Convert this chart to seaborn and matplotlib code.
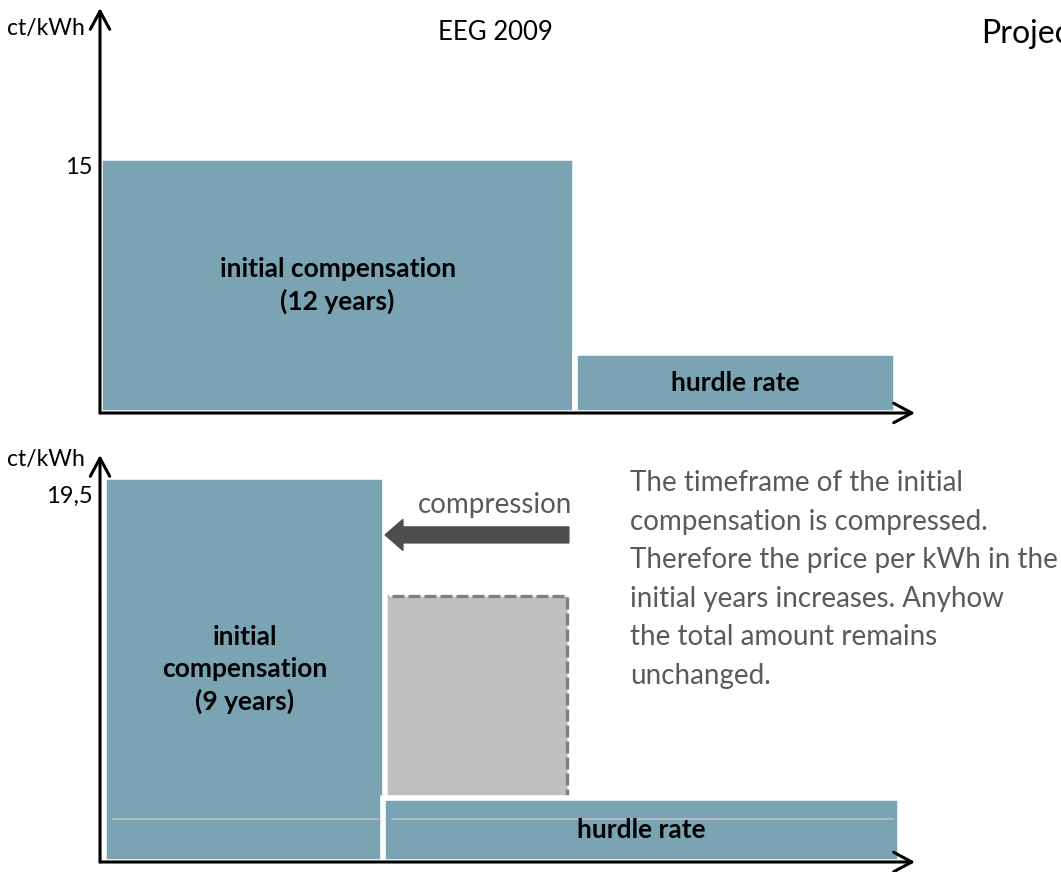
import matplotlib
matplotlib.use("Agg")
import matplotlib.pyplot as plt
import matplotlib.patches as mpatches
import matplotlib.transforms as mtransforms
import seaborn as sns

# --- data (years on x, ct/kWh on y) ---
top_labels = ["initial compensation\n(12 years)", "hurdle rate"]
top_starts = [0, 12]
top_widths = [12, 8.1]
top_heights = [15, 3.5]

bot_labels = ["initial\ncompensation\n(9 years)", "hurdle rate"]
bot_starts = [0.1, 7.15]
bot_widths = [7.1, 13.05]
bot_heights = [19.5, 3.25]

# previous compensation block (shown as dashed ghost)
ghost_start = 0
ghost_width = 11.8
ghost_height = 13.5

top_tick = 15
bot_tick = 19.5
top_tick_label = "15"
bot_tick_label = "19,5"

note_lines = [
    "The timeframe of the initial",
    "compensation is compressed.",
    "Therefore the price per kWh in the",
    "initial years increases. Anyhow",
    "the total amount remains",
    "unchanged.",
]

BLUE = "#7aa3b4"
GREY = "#bfbfbf"
DGREY = "#808080"
TXT = "#5a5a5a"

sns.set_theme(style="white")
plt.rcParams["font.family"] = ["Lato", "DejaVu Sans"]

W, H = 1061, 872
fig = plt.figure(figsize=(W / 100, H / 100), dpi=100)
fig.patch.set_facecolor("white")

ax_top = fig.add_axes([100 / W, 1 - 413 / H, 815 / W, 405 / H])
ax_bot = fig.add_axes([100 / W, 1 - 862 / H, 815 / W, 407 / H])
ax_top.set_xlim(0, 815 / 39.6)
ax_top.set_ylim(0, 405 / 17.0)
ax_bot.set_xlim(0, 815 / 39.6)
ax_bot.set_ylim(0, 407 / 19.74)


def style_axis(ax, tick, tick_label, unit_y, tick_drop):
    for s in ax.spines.values():
        s.set_visible(False)
    ax.set_xticks([])
    ax.set_yticks([])
    ax.patch.set_alpha(0)
    arrow = dict(arrowstyle="->,head_length=0.65,head_width=0.35", lw=2.2,
                 color="black", shrinkA=0, shrinkB=0, mutation_scale=20)
    ax.annotate("", xy=(1, 0), xytext=(0, 0), xycoords="axes fraction",
                arrowprops=arrow, annotation_clip=False, zorder=10)
    ax.annotate("", xy=(0, 1), xytext=(0, 0), xycoords="axes fraction",
                arrowprops=arrow, annotation_clip=False, zorder=10)
    trans = mtransforms.blended_transform_factory(ax.transAxes, ax.transData)
    trans = trans + mtransforms.ScaledTranslation(-7 / 100, -tick_drop / 100,
                                                  fig.dpi_scale_trans)
    ax.text(0, tick, tick_label, transform=trans, ha="right", va="top",
            fontsize=17, color="black")
    ax.text(-0.018, unit_y, "ct/kWh", transform=ax.transAxes, ha="right",
            va="center", fontsize=16.5, color="black")


# top panel
ax_top.bar(top_starts, top_heights, width=top_widths, align="edge",
           color=BLUE, edgecolor="white", linewidth=4, zorder=2)
for s, w, h, lab in zip(top_starts, top_widths, top_heights, top_labels):
    ax_top.text(s + w / 2, h / 2, lab, ha="center", va="center", fontsize=19,
                fontweight="bold", color="black", linespacing=1.4, zorder=3)
style_axis(ax_top, top_tick, top_tick_label, 0.95, -1)

# bottom panel
ax_bot.add_patch(mpatches.Rectangle((ghost_start, 0), ghost_width, ghost_height,
                                    facecolor=GREY, edgecolor=DGREY, linewidth=2.4,
                                    linestyle=(0, (3.6, 1.2)), zorder=1))
ax_bot.bar(bot_starts, bot_heights, width=bot_widths, align="edge",
           color=BLUE, edgecolor="white", linewidth=4, zorder=2)
for s, w in zip(bot_starts, bot_widths):
    ax_bot.hlines(2.2, s + 0.2, s + w - 0.15, color="#bcc2c5", lw=1.2, zorder=3)
for s, w, h, lab in zip(bot_starts, bot_widths, bot_heights, bot_labels):
    ax_bot.text(s + w / 2, h / 2, lab, ha="center", va="center", fontsize=19,
                fontweight="bold", color="black", linespacing=1.4, zorder=4)
style_axis(ax_bot, bot_tick, bot_tick_label, 0.988, 9)

# compression arrow
ax_bot.add_patch(mpatches.FancyArrow(11.84, 16.57, -4.64, 0, width=0.81,
                                     head_width=1.57, head_length=0.45,
                                     length_includes_head=True,
                                     color="#4d4d4d", zorder=5))
ax_bot.text(9.97, 18.1, "compression", ha="center", va="center", fontsize=20,
            color=TXT)

# titles and note
fig.text(495 / W, 1 - 32 / H, "EEG 2009", ha="center", va="center",
         fontsize=18.5, color="black")
fig.text(981 / W, 1 - 34 / H, "Project", ha="left", va="center",
         fontsize=23, color="black")
for i, line in enumerate(note_lines):
    fig.text(630 / W, 1 - (483 + 38.6 * i) / H, line, ha="left", va="center",
             fontsize=20, color=TXT)

fig.savefig("out.png", dpi=100)
